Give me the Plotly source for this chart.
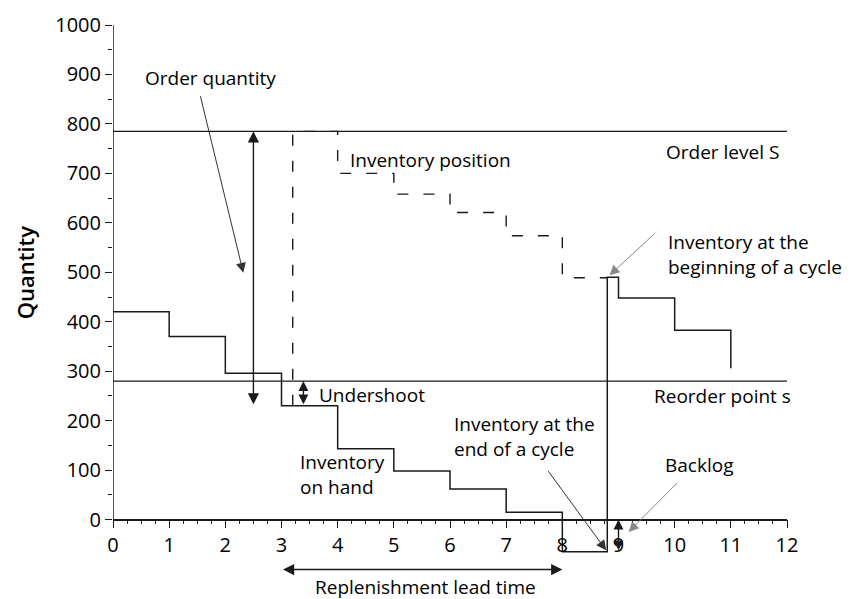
import plotly.graph_objects as go

# ---- data ----
time_on_hand = [0, 1, 2, 3, 4, 5, 6, 7, 8, 8.8, 9, 10, 11]
qty_on_hand = [420, 370, 296, 230, 143, 98, 62, 15, -65, 490, 448, 383, 306]

time_position = [3.2, 3.2, 4, 5, 6, 7, 8, 8.8]
qty_position = [230, 785, 700, 658, 621, 574, 489, 489]

order_level_S = 785
reorder_point_s = 280
x_span = [0, 12]

x_tick_vals = list(range(0, 13))
y_tick_vals = list(range(0, 1001, 100))
y_minor_vals = list(range(50, 1000, 100))

FONT = "Open Sans"
LINE = "#1a1a1a"
y_min, y_max = -110, 1000
PLOT_L, PLOT_W = 105, 674

def yp(v):
    """data y -> paper fraction (for marks below the axis range)"""
    return (v - y_min) / (y_max - y_min)

fig = go.Figure()

fig.add_trace(go.Scatter(x=x_span, y=[order_level_S] * 2, mode="lines",
                         line=dict(color=LINE, width=1.4), showlegend=False))
fig.add_trace(go.Scatter(x=x_span, y=[reorder_point_s] * 2, mode="lines",
                         line=dict(color=LINE, width=1.4), showlegend=False))
fig.add_trace(go.Scatter(x=time_position, y=qty_position, mode="lines",
                         line=dict(color=LINE, width=1.4, shape="hv", dash="11px,15px"),
                         showlegend=False))
fig.add_trace(go.Scatter(x=time_on_hand, y=qty_on_hand, mode="lines",
                         line=dict(color=LINE, width=1.5, shape="hv"), showlegend=False))

# y axis line from 0 to 1000
fig.add_shape(type="line", xref="x", yref="y", x0=0, x1=0, y0=0, y1=1000,
              line=dict(color=LINE, width=1.5))

def arrow(x, y, ax, ay, color=LINE, width=1.4, both=False, size=1.6):
    fig.add_annotation(x=x, y=y, ax=ax, ay=ay, xref="x", yref="y", axref="x", ayref="y",
                       text="", showarrow=True, arrowhead=2, arrowsize=size,
                       arrowwidth=width, arrowcolor=color, standoff=0, startstandoff=0,
                       arrowside="end+start" if both else "end", startarrowhead=2,
                       startarrowsize=size)

arrow(2.5, order_level_S, 2.5, 230, both=True)
arrow(2.32, 499, 1.55, 859, color="#333333", width=1.0, size=2.0)
arrow(3.39, reorder_point_s, 3.39, 230, both=True, size=1.4)
arrow(8.84, 494, 9.66, 580, color="#888888", width=1.0, size=2.0)
arrow(8.78, -62, 7.73, 101, color="#333333", width=1.0, size=2.0)
arrow(9.0, 0, 9.0, -65, both=True, size=1.4)
arrow(9.18, -25, 10.07, 77, color="#888888", width=1.0, size=2.0)
arrow(8.0, -101, 3.0, -101, both=True)

def label(x, y, text, xanchor="left", yref="y"):
    fig.add_annotation(x=x, y=y, xref="x", yref=yref, text=text, showarrow=False,
                       xanchor=xanchor, yanchor="middle", align="left",
                       font=dict(family=FONT, size=19, color="black", weight=500))

label(1.73, 893, "Order quantity", xanchor="center")
label(4.19, 727, "Inventory position")
label(11.89, 743, "Order level S", xanchor="right")
label(9.84, 536, "Inventory at the<br>beginning of a cycle")
label(3.64, 252, "Undershoot")
label(9.6, 249, "Reorder point s")
label(3.3, 91, "Inventory<br>on hand")
label(6.03, 169, "Inventory at the<br>end of a cycle")
label(9.8, 111, "Backlog")
label(5.57, yp(-137), "Replenishment lead time", xanchor="center", yref="paper")

# y-axis title, centred on the 0..1000 axis
fig.add_annotation(x=(17 - PLOT_L) / PLOT_W, y=500, xref="paper", yref="y",
                   text="Quantity", textangle=-90, showarrow=False,
                   xanchor="center", yanchor="middle",
                   font=dict(family=FONT, size=22, color="black", weight=600))

# page has an 8px body margin: plot area placed 8px up/left of the target
fig.update_layout(
    width=849, height=591,
    margin=dict(l=PLOT_L, r=849 - PLOT_L - PLOT_W, t=17, b=24.5, autoexpand=False),
    plot_bgcolor="white", paper_bgcolor="white",
    font=dict(family=FONT, size=19, color="black"),
    xaxis=dict(range=x_span, tickmode="array", tickvals=x_tick_vals,
               showgrid=False, zeroline=False, showline=True, linecolor=LINE, linewidth=1.5,
               ticks="outside", ticklen=8, tickwidth=1.4, tickcolor=LINE,
               minor=dict(dtick=0.25, tick0=0, ticks="outside", ticklen=4, tickwidth=1.2,
                          tickcolor=LINE, showgrid=False),
               anchor="free", position=yp(0),
               tickfont=dict(family=FONT, size=20, color="black", weight=500),
               automargin=False),
    yaxis=dict(range=[y_min, y_max], tickmode="array", tickvals=y_tick_vals,
               showgrid=False, zeroline=False, showline=False,
               ticks="outside", ticklen=7, tickwidth=1.4, tickcolor=LINE,
               minor=dict(tickmode="array", tickvals=y_minor_vals, ticks="outside",
                          ticklen=4, tickwidth=1.2, tickcolor=LINE, showgrid=False),
               tickfont=dict(family=FONT, size=20, color="black", weight=500),
               automargin=False),
)

fig.write_html("out.html")
